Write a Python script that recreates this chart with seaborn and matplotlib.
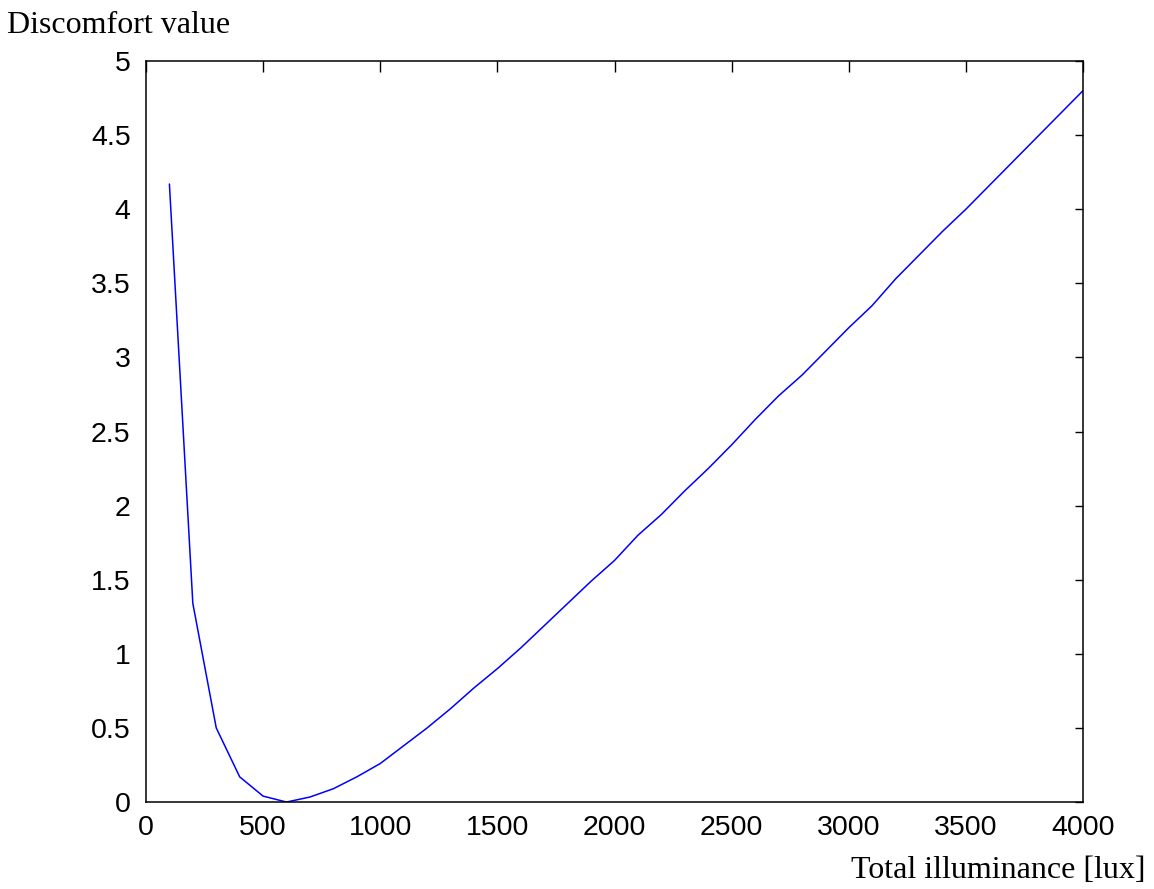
import numpy as np
import pandas as pd
import matplotlib
matplotlib.use('Agg')
import matplotlib.pyplot as plt
import seaborn as sns

# illuminance steps (lux) and discomfort values
lux = [100, 200, 300, 400, 500, 600, 700, 800, 900, 1000,
       1100, 1200, 1300, 1400, 1500, 1600, 1700, 1800, 1900, 2000,
       2100, 2200, 2300, 2400, 2500, 2600, 2700, 2800, 2900, 3000,
       3100, 3200, 3300, 3400, 3500, 3600, 3700, 3800, 3900, 4000]
discomfort = [4.17, 1.34, 0.50, 0.17, 0.04, 0.0, 0.034, 0.09, 0.17, 0.26,
              0.38, 0.50, 0.63, 0.77, 0.90, 1.04, 1.19, 1.34, 1.49, 1.63,
              1.80, 1.94, 2.10, 2.25, 2.41, 2.58, 2.74, 2.88, 3.04, 3.20,
              3.35, 3.53, 3.69, 3.85, 4.00, 4.16, 4.32, 4.48, 4.64, 4.80]
xticks = [0, 500, 1000, 1500, 2000, 2500, 3000, 3500, 4000]
yticks = [0, 0.5, 1, 1.5, 2, 2.5, 3, 3.5, 4, 4.5, 5]

df = pd.DataFrame({'lux': lux, 'discomfort': discomfort})

sns.set_theme(style='white')
plt.rcParams['font.family'] = ['Liberation Sans', 'DejaVu Sans']

fig = plt.figure(figsize=(11.54, 8.89), dpi=100)
ax = fig.add_axes([0.1265, 0.0978, 0.812, 0.8336])

sns.lineplot(data=df, x='lux', y='discomfort', color='#0000ff', linewidth=1.1, ax=ax)

ax.set_xlim(0, 4000)
ax.set_ylim(0, 5)
ax.set_xticks(xticks)
ax.set_yticks(yticks)
ax.set_xticklabels([str(t) for t in xticks])
ax.set_yticklabels([('%g' % t) for t in yticks])
ax.set_xlabel('')
ax.set_ylabel('')

for s in ax.spines.values():
    s.set_color('black')
    s.set_linewidth(1.1)

ax.tick_params(axis='both', direction='in', top=True, right=True,
               color='black', width=1.0, labelsize=20.5, labelcolor='black')
ax.tick_params(axis='x', length=8, pad=9)
ax.tick_params(axis='y', length=5.5, pad=11)

fig.text(0.006, 0.963, 'Discomfort value', family='Liberation Serif',
         fontsize=23, color='black', ha='left', va='baseline')
fig.text(0.993, 0.012, 'Total illuminance [lux]', family='Liberation Serif',
         fontsize=23, color='black', ha='right', va='baseline')

fig.savefig('out.png', dpi=100)
